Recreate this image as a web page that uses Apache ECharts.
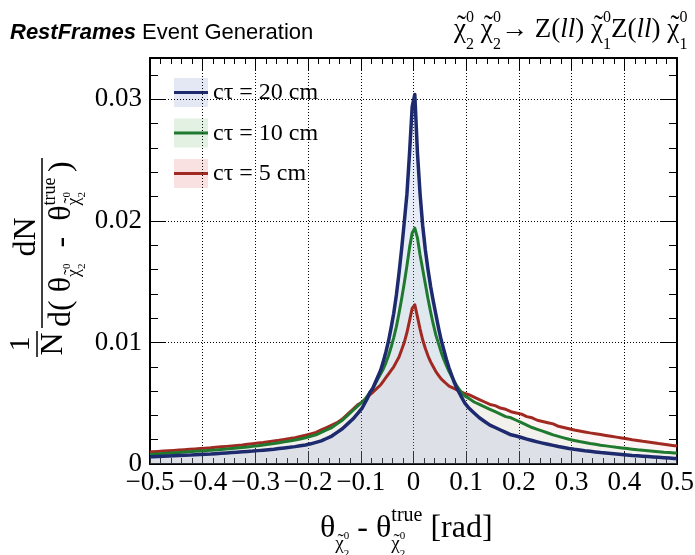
<!DOCTYPE html>
<html>
<head>
<meta charset="utf-8">
<title>RestFrames theta resolution</title>
<script src="https://cdn.jsdelivr.net/npm/echarts@6.0.0/dist/echarts.min.js"></script>
<style>
  html, body { margin: 0; padding: 0; background: #fff; }
  #main { width: 695px; height: 555px; }
</style>
</head>
<body>
<div id="main"></div>
<script>
// bins: 0.01 wide for |x| > 0.1, 0.005 wide in the core
const binEdges = [];
for (let i = 0; i < 40; i++) binEdges.push(-0.5 + i * 0.01);
for (let i = 0; i < 40; i++) binEdges.push(-0.1 + i * 0.005);
for (let i = 0; i <= 40; i++) binEdges.push(0.1 + i * 0.01);
for (let i = 0; i < binEdges.length; i++) binEdges[i] = Math.round(binEdges[i] * 1e4) / 1e4;

const seriesNames = ['cτ = 20 cm', 'cτ = 10 cm', 'cτ = 5 cm'];

// c tau = 20 cm
const ct20 = [
  0.00059, 0.00061, 0.00063, 0.00065, 0.00067, 0.00069, 0.00071, 0.00073, 0.00076, 0.00078,
  0.00080, 0.00082, 0.00085, 0.00088, 0.00091, 0.00094, 0.00097, 0.00100, 0.00103, 0.00106,
  0.00110, 0.00114, 0.00118, 0.00122, 0.00127, 0.00132, 0.00137, 0.00143, 0.00150, 0.00157,
  0.00166, 0.00178, 0.0019, 0.0021, 0.0023, 0.0026, 0.0029, 0.0033, 0.0037, 0.0042,
  0.0046, 0.0050, 0.0054, 0.0059, 0.0062, 0.0067, 0.0072, 0.0077, 0.0084, 0.0092,
  0.0101, 0.0112, 0.0124, 0.0139, 0.0157, 0.0177, 0.0199, 0.0222, 0.0256, 0.0294,
  0.0304, 0.0256, 0.0222, 0.0196, 0.0176, 0.0160, 0.0146, 0.0134, 0.0123, 0.0112,
  0.0102, 0.0094, 0.0086, 0.0079, 0.0073, 0.0067, 0.0062, 0.0058, 0.0054, 0.0050,
  0.0046, 0.0042, 0.0038, 0.0035, 0.0032, 0.0030, 0.0028, 0.0026, 0.0024, 0.0023,
  0.00218, 0.00205, 0.00193, 0.00182, 0.00172, 0.00162, 0.00153, 0.00144, 0.00136, 0.00128,
  0.00121, 0.00115, 0.00109, 0.00104, 0.00099, 0.00094, 0.00090, 0.00086, 0.00082, 0.00078,
  0.00074, 0.00070, 0.00067, 0.00064, 0.00061, 0.00058, 0.00055, 0.00052, 0.00049, 0.00046
];

// c tau = 10 cm
const ct10 = [
  0.00080, 0.00083, 0.00086, 0.00089, 0.00092, 0.00095, 0.00098, 0.00101, 0.00104, 0.00107,
  0.00110, 0.00113, 0.00116, 0.00120, 0.00124, 0.00128, 0.00132, 0.00136, 0.00140, 0.00145,
  0.00150, 0.00156, 0.00162, 0.00168, 0.00175, 0.00182, 0.00189, 0.00197, 0.00206, 0.00216,
  0.00228, 0.0024, 0.0026, 0.0028, 0.0030, 0.0033, 0.0036, 0.0040, 0.0044, 0.0048,
  0.0051, 0.0053, 0.0056, 0.0059, 0.0062, 0.0066, 0.0070, 0.0074, 0.0078, 0.0083,
  0.0089, 0.0096, 0.0104, 0.0113, 0.0124, 0.0136, 0.0149, 0.0163, 0.0178, 0.0190,
  0.0194, 0.0186, 0.0172, 0.0160, 0.0148, 0.0136, 0.0125, 0.0115, 0.0106, 0.0099,
  0.0092, 0.0086, 0.0081, 0.0076, 0.0072, 0.0068, 0.0064, 0.0061, 0.0058, 0.0056,
  0.0054, 0.0051, 0.0049, 0.0047, 0.0045, 0.0043, 0.0041, 0.0039, 0.0038, 0.0036,
  0.0034, 0.0032, 0.0030, 0.00285, 0.0027, 0.00255, 0.0024, 0.00227, 0.00215, 0.00204,
  0.00194, 0.00185, 0.00177, 0.00169, 0.00162, 0.00155, 0.00149, 0.00143, 0.00137, 0.00132,
  0.00127, 0.00122, 0.00117, 0.00113, 0.00109, 0.00105, 0.00101, 0.00097, 0.00094, 0.00091
];

// c tau = 5 cm
const ct5 = [
  0.00100, 0.00103, 0.00106, 0.00109, 0.00112, 0.00115, 0.00118, 0.00121, 0.00124, 0.00127,
  0.00130, 0.00133, 0.00137, 0.00141, 0.00145, 0.00149, 0.00153, 0.00157, 0.00162, 0.00167,
  0.00172, 0.00177, 0.00183, 0.00189, 0.00195, 0.00202, 0.00209, 0.00217, 0.00226, 0.00236,
  0.00248, 0.0026, 0.0028, 0.0030, 0.0032, 0.0034, 0.0037, 0.0041, 0.0045, 0.0049,
  0.0051, 0.0053, 0.0055, 0.0057, 0.0059, 0.0061, 0.0063, 0.0065, 0.0068, 0.0071,
  0.0074, 0.0077, 0.0080, 0.0084, 0.0088, 0.0094, 0.0100, 0.0108, 0.0118, 0.0128,
  0.0131, 0.0121, 0.0111, 0.0102, 0.0095, 0.0089, 0.0084, 0.0080, 0.0076, 0.0073,
  0.0070, 0.0068, 0.0066, 0.0064, 0.0063, 0.0062, 0.0061, 0.0060, 0.0059, 0.0058,
  0.0057, 0.0055, 0.0053, 0.0051, 0.0049, 0.0048, 0.0046, 0.0045, 0.0043, 0.0042,
  0.0041, 0.0039, 0.0038, 0.0036, 0.0035, 0.0034, 0.0033, 0.0031, 0.0030, 0.0029,
  0.0028, 0.00272, 0.00264, 0.00256, 0.00249, 0.00242, 0.00235, 0.00228, 0.00221, 0.00214,
  0.00207, 0.00200, 0.00194, 0.00187, 0.00181, 0.00175, 0.00168, 0.00162, 0.00156, 0.00150
];

const yLabelValues = [0, 0.01, 0.02, 0.03];

const lineColors = ['#1d2a6e', '#1f7a30', '#a02a22'];
const lineWidths = [3.5, 3, 3];
const areaColors = ['rgba(135,160,215,0.28)', 'rgba(140,205,140,0.12)', 'rgba(235,140,140,0.12)'];
const legendFill = ['#e4e8f5', '#e2f1e2', '#f9e1e1'];

const chart = echarts.init(document.getElementById('main'));

// bin centres, held flat out to the outer edges of the range
function toPoints(vals) {
  const d = [[binEdges[0], vals[0]]];
  vals.forEach((v, i) => d.push([(binEdges[i] + binEdges[i + 1]) / 2, v]));
  d.push([binEdges[vals.length], vals[vals.length - 1]]);
  return d;
}

const SERIF = '"Liberation Serif", "DejaVu Serif", serif';
const mctx = document.createElement('canvas').getContext('2d');
function tw(s, size, st) {
  mctx.font = (st || '') + ' ' + size + 'px ' + SERIF;
  return mctx.measureText(s).width;
}
function txt(s, x, y, size, st, align) {
  return {
    type: 'text', x: x, y: y, silent: true,
    style: { text: s, font: (st || '') + ' ' + size + 'px ' + SERIF, fill: '#000',
             align: align || 'left', verticalAlign: 'middle' }
  };
}
// each column: pieces [text, size, dy, style, dx] sharing one left x
function formula(cols, x0, y0) {
  const els = [];
  let x = x0;
  cols.forEach(col => {
    let w = 0;
    col.forEach(p => {
      const dx = p[4] || 0;
      els.push(txt(p[0], x + dx, y0 + p[2], p[1], p[3]));
      w = Math.max(w, dx + tw(p[0], p[1], p[3]));
    });
    x += w;
  });
  return { els: els, width: x - x0 };
}
// chi with a tilde over it
function chi(size, dy, dx) {
  dx = dx || 0;
  const wc = tw('χ', size), wt = tw('˜', size);
  return [['χ', size, dy, '', dx], ['˜', size, dy - 0.12 * size, '', dx + (wc - wt) / 2 + 0.06 * size]];
}

// x axis title
const wChiX = tw('χ', 19);
const xTitle = formula([
  [['θ', 32, 0]],
  chi(19, 15),
  [['0', 11, 7], ['2', 11, 25]],
  [[' - ', 32, 0]],
  [['θ', 32, 0]],
  [['true', 20, -13]].concat(chi(19, 15), [['0', 11, 7, '', wChiX], ['2', 11, 25, '', wChiX]]),
  [[' [rad]', 32, 0]]
], 320, 529);

// y axis title, laid out in the rotated frame (local x runs up the page)
const wChiY = tw('χ', 18);
const denom = formula([
  [['d( ', 32, 0]],
  [['θ', 32, 0]],
  chi(18, 12),
  [['0', 11, 5], ['2', 11, 20]],
  [['  -  ', 32, 0]],
  [['θ', 32, 0]],
  [['true', 18, -12]].concat(chi(18, 12), [['0', 11, 5, '', wChiY], ['2', 11, 20, '', wChiY]])
], 228, 62);
const yTitle = {
  type: 'group', x: 0, y: 555, rotation: Math.PI / 2,
  children: [
    txt('1', 211, 21, 30, '', 'center'),
    { type: 'line', silent: true, shape: { x1: 198, y1: 37, x2: 224, y2: 37 }, style: { stroke: '#000', lineWidth: 1.5 } },
    txt('N', 211, 54, 32, '', 'center'),
    txt('dN', 318, 27, 32, '', 'center'),
    { type: 'line', silent: true, shape: { x1: 227, y1: 42, x2: 397, y2: 42 }, style: { stroke: '#000', lineWidth: 1.5 } },
    txt(')', 383, 62, 32)
  ].concat(denom.els)
};

// process label at top right
const topRight = formula([
  chi(27, 0), [['0', 16, -12], ['2', 16, 15]], [[' ', 27, 0]],
  chi(27, 0), [['0', 16, -12], ['2', 16, 15]],
  [['→ Z(', 27, 0]], [['ll', 27, 0, 'italic']], [[') ', 27, 0]],
  chi(27, 0), [['0', 16, -12], ['1', 16, 15]],
  [['Z(', 27, 0]], [['ll', 27, 0, 'italic']], [[') ', 27, 0]],
  chi(27, 0), [['0', 16, -12], ['1', 16, 15]]
], 454, 30);

// header at top left
mctx.font = 'italic bold 22px "Liberation Sans"';
const rfW = mctx.measureText('RestFrames').width;
const header = [
  { type: 'text', x: 10, y: 33, silent: true, style: { text: 'RestFrames', font: 'italic bold 22px "Liberation Sans"', fill: '#000', verticalAlign: 'middle' } },
  { type: 'text', x: 10 + rfW, y: 33, silent: true, style: { text: ' Event Generation', font: '22px "Liberation Sans"', fill: '#000', verticalAlign: 'middle' } }
];

// legend
const legendEls = [];
seriesNames.forEach((name, i) => {
  const y = 78 + i * 40.5;
  legendEls.push({ type: 'rect', silent: true, shape: { x: 174, y: y, width: 34, height: 29 }, style: { fill: legendFill[i] } });
  legendEls.push({ type: 'line', silent: true, shape: { x1: 174, y1: y + 14.5, x2: 208, y2: y + 14.5 }, style: { stroke: lineColors[i], lineWidth: 3 } });
  legendEls.push(txt(name, 213, y + 15, 24));
});

const yMax = 0.0334;
const tickLine = { color: '#000', width: 1 };
const frameLine = { show: true, onZero: false, lineStyle: { color: '#000', width: 2 } };

function fmtX(v) {
  if (Math.abs(v) < 1e-9) return '0';
  return (v < 0 ? '\u2212' : '') + Math.abs(v).toFixed(1);
}
function fmtY(v) {
  for (const t of yLabelValues) if (Math.abs(v - t) < 1e-9) return t === 0 ? '0' : t.toFixed(2);
  return '';
}

const data = [ct20, ct10, ct5];
const series = [2, 1, 0].map(i => ({
  name: seriesNames[i],
  type: 'line',
  data: toPoints(data[i]),
  symbol: 'none',
  lineStyle: { color: lineColors[i], width: lineWidths[i], join: 'round' },
  itemStyle: { color: lineColors[i] },
  areaStyle: { color: areaColors[i], origin: 'start' },
  xAxisIndex: 0,
  yAxisIndex: 0
}));

chart.setOption({
  animation: false,
  backgroundColor: '#fff',
  grid: { left: 150, right: 18, top: 58, bottom: 91, containLabel: false, outerBoundsMode: 'none' },
  xAxis: [
    {
      type: 'value', position: 'bottom', min: -0.5, max: 0.5, interval: 0.1,
      axisLine: frameLine,
      axisTick: { inside: true, length: 12, lineStyle: tickLine },
      minorTick: { show: true, splitNumber: 5, length: 6, lineStyle: tickLine },
      splitLine: { show: true, lineStyle: { color: '#000', width: 1, type: [1, 2] } },
      axisLabel: { color: '#000', fontFamily: SERIF, fontSize: 27, margin: 5, formatter: fmtX }
    },
    {
      type: 'value', position: 'top', min: -0.5, max: 0.5, interval: 0.1,
      axisLine: frameLine,
      axisTick: { inside: true, length: 12, lineStyle: tickLine },
      minorTick: { show: true, splitNumber: 5, length: 6, lineStyle: tickLine },
      splitLine: { show: false },
      axisLabel: { show: false }
    }
  ],
  yAxis: [
    {
      type: 'value', position: 'left', min: 0, max: yMax, interval: 0.01,
      axisLine: frameLine,
      axisTick: { inside: true, length: 16, lineStyle: tickLine },
      splitLine: { show: true, lineStyle: { color: '#000', width: 1, type: [1, 2] } },
      axisLabel: { color: '#000', fontFamily: SERIF, fontSize: 27, margin: 8, formatter: fmtY, showMaxLabel: false }
    },
    {
      type: 'value', position: 'right', min: 0, max: yMax, interval: 0.01,
      axisLine: frameLine,
      axisTick: { inside: true, length: 16, lineStyle: tickLine },
      splitLine: { show: false },
      axisLabel: { show: false }
    },
    {
      type: 'value', position: 'left', min: 0, max: yMax, interval: 0.002,
      axisLine: { show: false, onZero: false },
      axisTick: { inside: true, length: 8, lineStyle: tickLine },
      splitLine: { show: false },
      axisLabel: { show: false }
    },
    {
      type: 'value', position: 'right', min: 0, max: yMax, interval: 0.002,
      axisLine: { show: false, onZero: false },
      axisTick: { inside: true, length: 8, lineStyle: tickLine },
      splitLine: { show: false },
      axisLabel: { show: false }
    }
  ],
  series: series,
  graphic: { elements: header.concat(topRight.els, xTitle.els, [yTitle], legendEls) }
});
</script>
</body>
</html>
